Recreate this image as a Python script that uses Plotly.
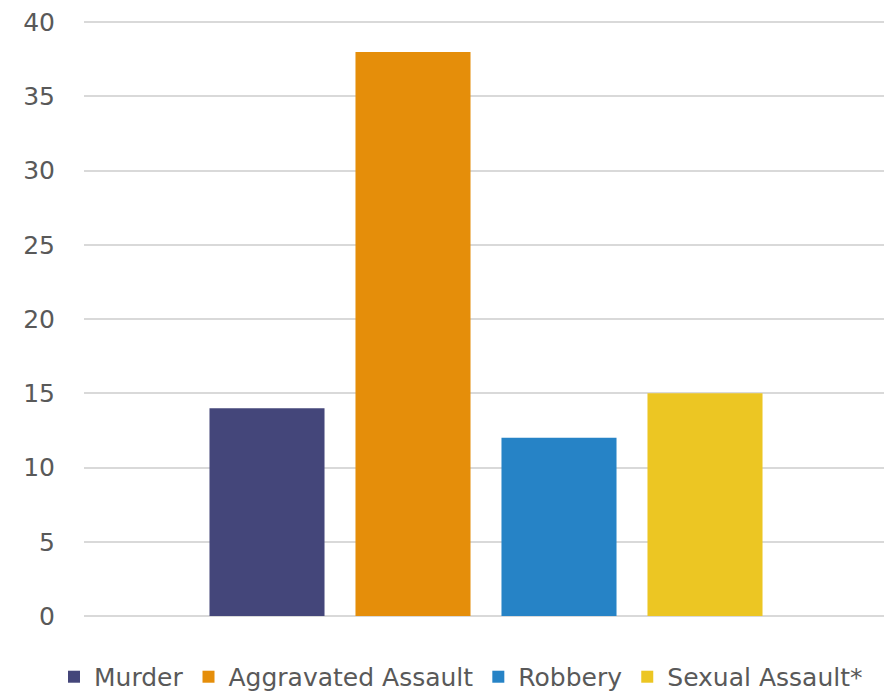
import plotly.graph_objects as go

category = ["Violent Crime"]
series_names = ["Murder", "Aggravated Assault", "Robbery", "Sexual Assault*"]
series_values = [[14], [38], [12], [15]]
colors = ["#44467A", "#E58E0A", "#2683C6", "#ECC623"]
y_ticks = [0, 5, 10, 15, 20, 25, 30, 35, 40]

fig = go.Figure()
for name, vals, col in zip(series_names, series_values, colors):
    fig.add_trace(go.Bar(x=category, y=vals, name=name, marker=dict(color=col, line=dict(width=0))))

font_family = "'DejaVu Sans', sans-serif"
fig.update_layout(
    width=884, height=692,
    margin=dict(l=84, r=0, t=20, b=76, autoexpand=False),
    paper_bgcolor="white", plot_bgcolor="white",
    barmode="group", bargap=0.27, bargroupgap=0.212,
    font=dict(family=font_family, size=25, color="#595959"),
    showlegend=True,
    legend=dict(orientation="h", x=-0.0375, xanchor="left", xref="paper",
                y=-0.1023, yanchor="middle", yref="paper",
                font=dict(size=25, color="#595959"), borderwidth=0,
                itemsizing="constant", traceorder="normal", itemwidth=30),
    xaxis=dict(range=[-0.5025, 0.4975], showticklabels=False, showgrid=False, zeroline=False,
               showline=False, ticks=""),
    yaxis=dict(range=[0, 40.15], tickvals=y_ticks, showgrid=True, gridcolor="#D9D9D9", gridwidth=2,
               zeroline=True, zerolinecolor="#D9D9D9", zerolinewidth=2, showline=False,
               ticks="", ticklabelstandoff=28, tickfont=dict(size=25, color="#595959")),
)

fig.write_html("out.html", config={"displayModeBar": False},
               post_script="document.body.style.margin='0';document.body.style.padding='0';")
